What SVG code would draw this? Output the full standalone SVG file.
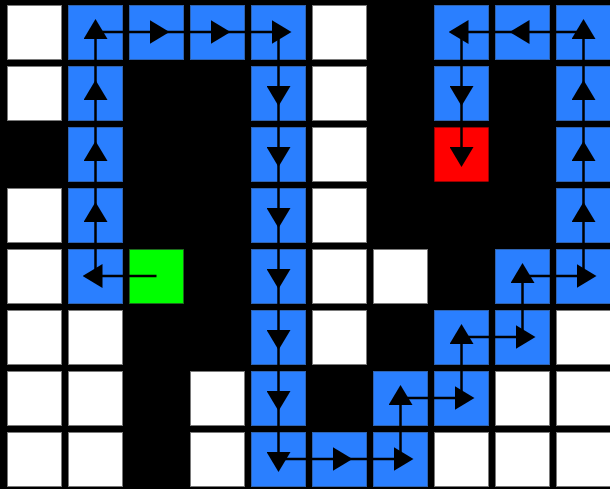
<svg xmlns="http://www.w3.org/2000/svg" width="610" height="489" viewBox="0 0 610 489">
<style>
.w{fill:#ffffff;stroke:#7a7a7a;stroke-width:1}
.b{fill:#2a7fff;stroke:#2f63b0;stroke-width:1}
.g{fill:#00ff00;stroke:#1c6a1c;stroke-width:1}
.r{fill:#ff0000;stroke:#b00000;stroke-width:0.5}
.c{stroke:#000;stroke-width:2.5;fill:none;marker-end:url(#ah)}
</style>
<defs>
<marker id="ah" markerUnits="userSpaceOnUse" markerWidth="20" markerHeight="24" viewBox="0 0 20 24" refX="7" refY="12" orient="auto">
<path d="M0,0 L20,12 L0,24 z" fill="#000"/>
</marker>
</defs>
<rect x="0" y="0" width="610" height="489" fill="#000"/>
<g id="cells-white">
<rect id="w0_0" class="w" x="7.5" y="5.5" width="54" height="54"/>
<rect id="w0_5" class="w" x="312.5" y="5.5" width="54" height="54"/>
<rect id="w1_0" class="w" x="7.5" y="66.5" width="54" height="54"/>
<rect id="w1_5" class="w" x="312.5" y="66.5" width="54" height="54"/>
<rect id="w2_5" class="w" x="312.5" y="127.5" width="54" height="54"/>
<rect id="w3_0" class="w" x="7.5" y="188.5" width="54" height="54"/>
<rect id="w3_5" class="w" x="312.5" y="188.5" width="54" height="54"/>
<rect id="w4_0" class="w" x="7.5" y="249.5" width="54" height="54"/>
<rect id="w4_5" class="w" x="312.5" y="249.5" width="54" height="54"/>
<rect id="w4_6" class="w" x="373.5" y="249.5" width="54" height="54"/>
<rect id="w5_0" class="w" x="7.5" y="310.5" width="54" height="54"/>
<rect id="w5_1" class="w" x="68.5" y="310.5" width="54" height="54"/>
<rect id="w5_5" class="w" x="312.5" y="310.5" width="54" height="54"/>
<rect id="w5_9" class="w" x="556.5" y="310.5" width="54" height="54"/>
<rect id="w6_0" class="w" x="7.5" y="371.5" width="54" height="54"/>
<rect id="w6_1" class="w" x="68.5" y="371.5" width="54" height="54"/>
<rect id="w6_3" class="w" x="190.5" y="371.5" width="54" height="54"/>
<rect id="w6_8" class="w" x="495.5" y="371.5" width="54" height="54"/>
<rect id="w6_9" class="w" x="556.5" y="371.5" width="54" height="54"/>
<rect id="w7_0" class="w" x="7.5" y="432.5" width="54" height="54"/>
<rect id="w7_1" class="w" x="68.5" y="432.5" width="54" height="54"/>
<rect id="w7_3" class="w" x="190.5" y="432.5" width="54" height="54"/>
<rect id="w7_7" class="w" x="434.5" y="432.5" width="54" height="54"/>
<rect id="w7_8" class="w" x="495.5" y="432.5" width="54" height="54"/>
<rect id="w7_9" class="w" x="556.5" y="432.5" width="54" height="54"/>
</g>
<g id="cells-path">
<rect id="b0_1" class="b" x="68.5" y="5.5" width="54" height="54"/>
<rect id="b0_2" class="b" x="129.5" y="5.5" width="54" height="54"/>
<rect id="b0_3" class="b" x="190.5" y="5.5" width="54" height="54"/>
<rect id="b0_4" class="b" x="251.5" y="5.5" width="54" height="54"/>
<rect id="b0_7" class="b" x="434.5" y="5.5" width="54" height="54"/>
<rect id="b0_8" class="b" x="495.5" y="5.5" width="54" height="54"/>
<rect id="b0_9" class="b" x="556.5" y="5.5" width="54" height="54"/>
<rect id="b1_1" class="b" x="68.5" y="66.5" width="54" height="54"/>
<rect id="b1_4" class="b" x="251.5" y="66.5" width="54" height="54"/>
<rect id="b1_7" class="b" x="434.5" y="66.5" width="54" height="54"/>
<rect id="b1_9" class="b" x="556.5" y="66.5" width="54" height="54"/>
<rect id="b2_1" class="b" x="68.5" y="127.5" width="54" height="54"/>
<rect id="b2_4" class="b" x="251.5" y="127.5" width="54" height="54"/>
<rect id="b2_9" class="b" x="556.5" y="127.5" width="54" height="54"/>
<rect id="b3_1" class="b" x="68.5" y="188.5" width="54" height="54"/>
<rect id="b3_4" class="b" x="251.5" y="188.5" width="54" height="54"/>
<rect id="b3_9" class="b" x="556.5" y="188.5" width="54" height="54"/>
<rect id="b4_1" class="b" x="68.5" y="249.5" width="54" height="54"/>
<rect id="b4_4" class="b" x="251.5" y="249.5" width="54" height="54"/>
<rect id="b4_8" class="b" x="495.5" y="249.5" width="54" height="54"/>
<rect id="b4_9" class="b" x="556.5" y="249.5" width="54" height="54"/>
<rect id="b5_4" class="b" x="251.5" y="310.5" width="54" height="54"/>
<rect id="b5_7" class="b" x="434.5" y="310.5" width="54" height="54"/>
<rect id="b5_8" class="b" x="495.5" y="310.5" width="54" height="54"/>
<rect id="b6_4" class="b" x="251.5" y="371.5" width="54" height="54"/>
<rect id="b6_6" class="b" x="373.5" y="371.5" width="54" height="54"/>
<rect id="b6_7" class="b" x="434.5" y="371.5" width="54" height="54"/>
<rect id="b7_4" class="b" x="251.5" y="432.5" width="54" height="54"/>
<rect id="b7_5" class="b" x="312.5" y="432.5" width="54" height="54"/>
<rect id="b7_6" class="b" x="373.5" y="432.5" width="54" height="54"/>
</g>
<g id="start"><rect class="g" x="129.5" y="249.5" width="54" height="54"/></g>
<g id="goal"><rect class="r" x="434.5" y="127.5" width="54" height="54"/></g>
<g id="connectors">
<line class="c" x1="156.5" y1="276" x2="95.5" y2="276"/>
<line class="c" x1="95.5" y1="276" x2="95.5" y2="215"/>
<line class="c" x1="95.5" y1="215" x2="95.5" y2="154"/>
<line class="c" x1="95.5" y1="154" x2="95.5" y2="93"/>
<line class="c" x1="95.5" y1="93" x2="95.5" y2="32"/>
<line class="c" x1="95.5" y1="32" x2="156.5" y2="32"/>
<line class="c" x1="156.5" y1="32" x2="217.5" y2="32"/>
<line class="c" x1="217.5" y1="32" x2="278.5" y2="32"/>
<line class="c" x1="278.5" y1="32" x2="278.5" y2="93"/>
<line class="c" x1="278.5" y1="93" x2="278.5" y2="154"/>
<line class="c" x1="278.5" y1="154" x2="278.5" y2="215"/>
<line class="c" x1="278.5" y1="215" x2="278.5" y2="276"/>
<line class="c" x1="278.5" y1="276" x2="278.5" y2="337"/>
<line class="c" x1="278.5" y1="337" x2="278.5" y2="398"/>
<line class="c" x1="278.5" y1="398" x2="278.5" y2="459"/>
<line class="c" x1="278.5" y1="459" x2="339.5" y2="459"/>
<line class="c" x1="339.5" y1="459" x2="400.5" y2="459"/>
<line class="c" x1="400.5" y1="459" x2="400.5" y2="398"/>
<line class="c" x1="400.5" y1="398" x2="461.5" y2="398"/>
<line class="c" x1="461.5" y1="398" x2="461.5" y2="337"/>
<line class="c" x1="461.5" y1="337" x2="522.5" y2="337"/>
<line class="c" x1="522.5" y1="337" x2="522.5" y2="276"/>
<line class="c" x1="522.5" y1="276" x2="583.5" y2="276"/>
<line class="c" x1="583.5" y1="276" x2="583.5" y2="215"/>
<line class="c" x1="583.5" y1="215" x2="583.5" y2="154"/>
<line class="c" x1="583.5" y1="154" x2="583.5" y2="93"/>
<line class="c" x1="583.5" y1="93" x2="583.5" y2="32"/>
<line class="c" x1="583.5" y1="32" x2="522.5" y2="32"/>
<line class="c" x1="522.5" y1="32" x2="461.5" y2="32"/>
<line class="c" x1="461.5" y1="32" x2="461.5" y2="93"/>
<line class="c" x1="461.5" y1="93" x2="461.5" y2="154"/>
</g>
</svg>
